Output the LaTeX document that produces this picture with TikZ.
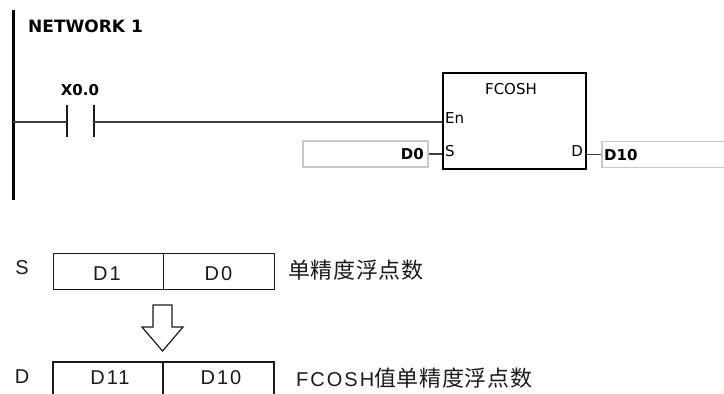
\documentclass[tikz,border=0pt]{standalone}
\usepackage{fontspec}
\setmainfont{DejaVu Sans}
\newfontfamily\arialf[LetterSpace=10]{Liberation Sans}
\newfontfamily\cjk[LetterSpace=3]{Noto Sans CJK SC}
\definecolor{wire}{HTML}{404040}
\definecolor{gbox}{HTML}{C8C8C8}
\definecolor{ink}{HTML}{1A1A1A}
\tikzset{
  ladtext/.style={font=\fontsize{15}{16}\selectfont, inner sep=0pt},
  ladbold/.style={font=\bfseries\fontsize{15}{16}\selectfont, inner sep=0pt},
  wireline/.style={draw=wire, line width=2pt},
  opbox/.style={draw=gbox, line width=1.3pt, minimum height=26pt, inner sep=0pt},
  cell/.style={draw=ink, line width=0.9pt, minimum height=36pt, inner sep=0pt},
  dcell/.style={draw=ink, line width=1.7pt, minimum height=46pt, inner sep=0pt},
  celltext/.style={font=\arialf\fontsize{20}{22}\selectfont, text=ink, inner sep=0pt},
  cjktext/.style={font=\fontsize{22}{24}\selectfont, text=ink, inner sep=0pt, anchor=west}
}
\begin{document}
\begin{tikzpicture}[x=1pt,y=-1pt]
\useasboundingbox (0,0) rectangle (724,394);
% power rail
\coordinate (railtop) at (13,10);
\coordinate (railbot) at (13,200);
\draw[line width=3pt] (railtop) -- (railbot);
\node[font=\bfseries\fontsize{17}{19}\selectfont, anchor=west, inner sep=0pt] (net) at (28,26) {NETWORK 1};
% contact
\coordinate (r0) at (13,122);
\node[minimum width=27pt, minimum height=32pt, inner sep=0pt] (c1) at (80.5,121) {};
\draw[line width=2.5pt, draw=ink] (c1.north west) -- (c1.south west);
\draw[line width=2.5pt, draw=ink] (c1.north east) -- (c1.south east);
\node[ladbold] (x00) at (80,90) {X0.0};
% function block
\node[draw, line width=2.6pt, minimum width=143pt, minimum height=96pt, inner sep=0pt] (fb) at (514.5,121) {};
\node[ladtext] (fname) at (511,89) {FCOSH};
\node[ladtext, anchor=west] (en) at (445,118) {En};
\node[ladtext, anchor=west] (sin) at (445,151) {S};
\node[ladtext, anchor=east] (dout) at (583,151) {D};
% wires
\draw[wireline] (r0) -- (c1.west |- r0);
\draw[wireline] (c1.east |- r0) -- (fb.west |- r0);
% operands
\node[opbox, minimum width=125pt] (d0box) at (365.5,154) {};
\node[ladbold, anchor=east] (d0) at (424,154) {D0};
\draw[wireline, line width=1.5pt] (d0box.east) -- (fb.west |- d0box.east);
\node[opbox, minimum width=140pt] (d10box) at (672,154.5) {};
\node[ladbold, anchor=west] (d10) at (604,155) {D10};
\draw[wireline, line width=1.5pt] (fb.east |- d10box.west) -- (d10box.west);
% lower diagram
\node[celltext] (slab) at (22,268) {S};
\node[cell, minimum width=110pt] (s1) at (108,271) {};
\node[cell, minimum width=111pt] (s0) at (218.5,271) {};
\node[celltext] (s1t) at (107,274) {D1};
\node[celltext] (s0t) at (218.5,274) {D0};
\node[cjktext] (sdesc) at (288,270) {\cjk 单精度浮点数};
\draw[line width=1.2pt, draw=ink, line join=miter] (153,305) -- (172,305) -- (172,327) -- (183,327) -- (162.5,351) -- (142,327) -- (153,327) -- cycle;
\node[celltext] (dlab) at (22,377) {D};
\node[dcell, minimum width=110pt] (d11c) at (108,385) {};
\node[dcell, minimum width=111pt] (d10c) at (218.5,385) {};
\node[celltext] (d11t) at (110,378) {D11};
\node[celltext] (d10t) at (221,378) {D10};
\node[cjktext] (ddesc) at (296,378) {{\arialf\fontsize{20}{22}\selectfont FCOSH}{\cjk 值单精度浮点数}};
\end{tikzpicture}
\end{document}
